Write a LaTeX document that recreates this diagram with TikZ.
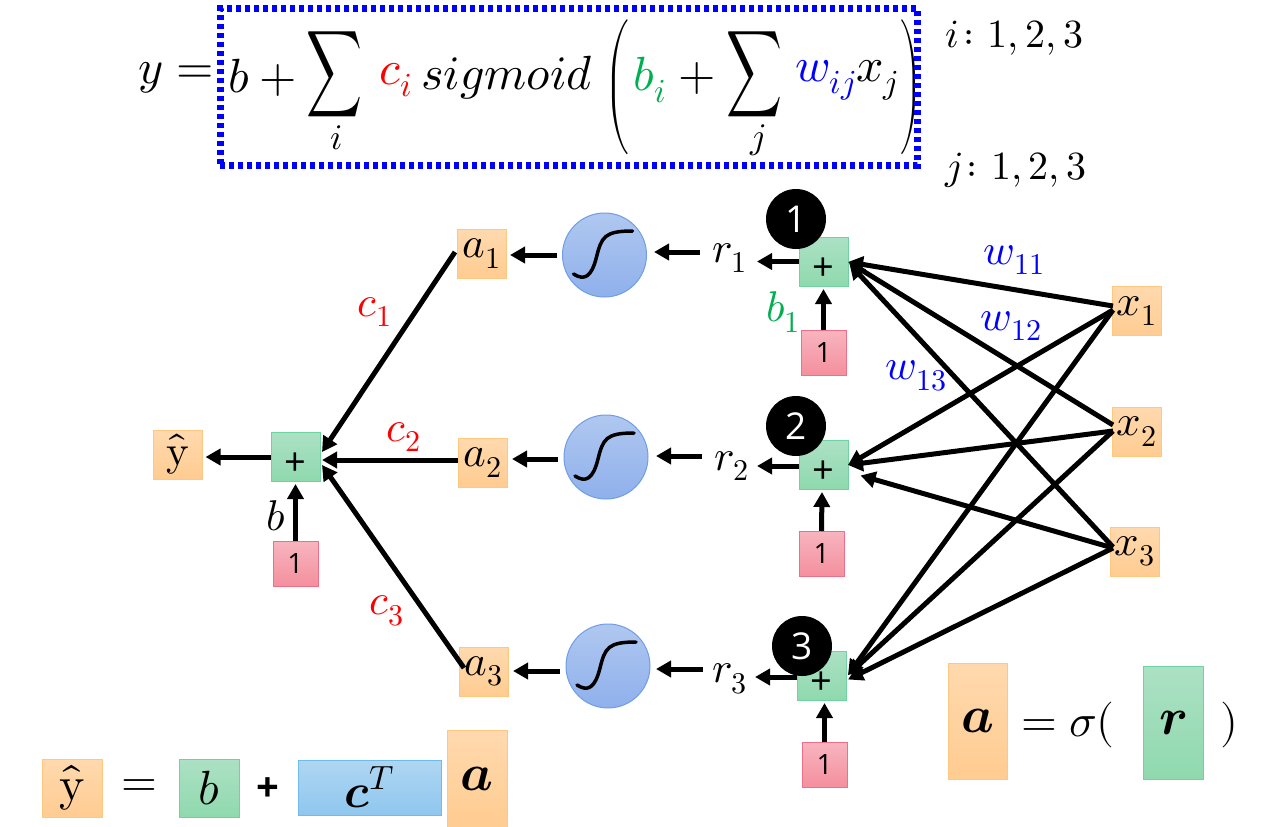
\documentclass[tikz,border=0pt]{standalone}
\usepackage{fontspec}
\usepackage{unicode-math}
\setmainfont{Open Sans}
\setmathfont{Latin Modern Math}
\usetikzlibrary{arrows.meta}
\definecolor{orT}{HTML}{FFD9AE}\definecolor{orB}{HTML}{FFCC91}\definecolor{orL}{HTML}{FFC880}
\definecolor{grT}{HTML}{ACE1C4}\definecolor{grB}{HTML}{8FD9AE}\definecolor{grL}{HTML}{70D2A0}
\definecolor{piT}{HTML}{F7B5BF}\definecolor{piB}{HTML}{F58F9E}\definecolor{piL}{HTML}{EE7088}
\definecolor{ciT}{HTML}{B0C8F0}\definecolor{ciB}{HTML}{8FB0EC}\definecolor{ciL}{HTML}{6F9EE6}
\definecolor{blT}{HTML}{AFD6F2}\definecolor{blB}{HTML}{8FC7EF}\definecolor{blL}{HTML}{6FBCEA}
\definecolor{labgreen}{HTML}{00B050}
\newcommand{\fs}[1]{\fontsize{#1}{#1}\selectfont}
\tikzset{
  x=1pt,y=-1pt,
  base/.style={inner sep=0pt,outer sep=0pt,line width=1pt},
  obox/.style={base,rectangle,minimum size=49pt,top color=orT,bottom color=orB,draw=orL,font=\fs{43}},
  gbox/.style={base,rectangle,minimum size=49pt,top color=grT,bottom color=grB,draw=grL,font=\fs{38}},
  sumbox/.style={gbox,text height=38pt,text depth=0pt},
  pbox/.style={base,rectangle,minimum size=45pt,top color=piT,bottom color=piB,draw=piL,font=\fs{28}},
  sig/.style={base,circle,minimum size=84pt,top color=ciT,bottom color=ciB,draw=ciL},
  badge/.style={base,circle,minimum size=60pt,fill=black,text=white,font=\fs{37}},
  lab/.style={inner sep=0pt,font=\fs{43}},
  eqn/.style={inner sep=0pt,font=\fs{48}},
  arr/.style={line width=5pt,-{Triangle[length=15pt,width=16pt]}},
  curve/.style={line width=3.5pt,line cap=round}
}
\newcommand{\sigmoidin}[1]{\draw[curve] ([shift={(-31,19)}]#1.center) .. controls ([shift={(-20,26)}]#1.center) and ([shift={(-13,22)}]#1.center) .. ([shift={(-8,2)}]#1.center) .. controls ([shift={(-3,-18)}]#1.center) and ([shift={(0,-24)}]#1.center) .. ([shift={(28,-24)}]#1.center);}
\begin{document}
\begin{tikzpicture}
\useasboundingbox[fill=white] (0,0) rectangle (1285,827);

% formula on top
\node[eqn,anchor=center] (ylhs) at (176,78) {$y=$};
\node[eqn] (b0) at (268,78) {$b+{}$};
\node[inner sep=0pt] (sumi) at (335,74.5) {\resizebox*{56pt}{85pt}{$\displaystyle\sum$}};
\node[inner sep=0pt,font=\fs{36}] (subi) at (337,138) {$i$};
\node[eqn] (ci) at (396,80) {$\textcolor{red}{c_i}$};
\node[eqn] (sgm) at (507,78) {$sigmoid$};
\node[inner sep=0pt] (lp) at (617,87) {\resizebox*{25pt}{135pt}{$\Bigg($}};
\node[eqn] (bi) at (650,80) {$\textcolor{labgreen}{b_i}$};
\node[eqn] (plusb) at (697,78) {$+$};
\node[inner sep=0pt] (sumj) at (754,74.5) {\resizebox*{56pt}{85pt}{$\displaystyle\sum$}};
\node[inner sep=0pt,font=\fs{36}] (subj) at (758,140) {$j$};
\node[eqn] (wx) at (847,80) {$\textcolor{blue}{w_{ij}}x_j$};
\node[inner sep=0pt] (rp) at (911,87) {\resizebox*{22pt}{135pt}{$\Bigg)$}};
\node[base,draw=blue,line width=7pt,dash pattern=on 5pt off 4pt,minimum width=697pt,minimum height=156.5pt] (frame) at (568.5,86.8) {};
\node[lab,font=\fs{40},anchor=west] (irange) at (945,38) {$i\colon 1{,}\,2{,}\,3$};
\node[lab,font=\fs{40},anchor=west] (jrange) at (945,170) {$j\colon 1{,}\,2{,}\,3$};

% boxes of the network
\node[obox] (a1) at (481.5,253.5) {$a_1$};
\node[obox] (a2) at (482.5,462.5) {$a_2$};
\node[obox] (a3) at (484,671.5) {$a_3$};
\node[obox] (x1) at (1136.5,311) {$x_1$};
\node[obox] (x2) at (1136.5,431.5) {$x_2$};
\node[obox] (x3) at (1134.5,551.5) {$x_3$};
\node[obox] (yh) at (177.5,454.5) {$\hat{\symup{y}}$};
\node[sumbox] (p1) at (823.5,261.5) {+};
\node[sumbox] (p2) at (823.5,464.5) {+};
\node[sumbox] (p3) at (821.5,675.5) {+};
\node[sumbox] (py) at (295.5,456.5) {+};
\node[pbox] (o1) at (823.5,352.5) {1};
\node[pbox] (o2) at (821.5,553.5) {1};
\node[pbox] (o3) at (824.5,764.5) {1};
\node[pbox] (oy) at (295.5,563.5) {1};
\node[sig] (c1) at (604.5,255) {};
\node[sig] (c2) at (606,457) {};
\node[sig] (c3) at (608,666) {};
\sigmoidin{c1}\sigmoidin{c2}\sigmoidin{c3}
\node[badge] (n1) at (796,219) {1};
\node[badge] (n2) at (796,426) {2};
\node[badge] (n3) at (802,646) {3};

% hidden-layer outputs
\node[lab] (r1) at (730,258) {$r_1$};
\node[lab] (r2) at (732,466) {$r_2$};
\node[lab] (r3) at (730,679) {$r_3$};

% weights and labels
\node[lab,text=red] (lc1) at (375,312) {$c_1$};
\node[lab,text=red] (lc2) at (404,437) {$c_2$};
\node[lab,text=red] (lc3) at (387,611) {$c_3$};
\node[lab] (lb) at (276,516) {$b$};
\node[lab,text=labgreen] (lb1) at (783,312) {$b_1$};
\node[lab,text=blue] (w11) at (1014,260) {$w_{11}$};
\node[lab,text=blue] (w12) at (1011,326) {$w_{12}$};
\node[lab,text=blue] (w13) at (916,376) {$w_{13}$};

% connectors into the output sum
\draw[arr] ([shift={(-26.5,-1.5)}]a1.center) -- ([shift={(26.5,-4.5)}]py.center);
\draw[arr] ([shift={(-24.5,-2.5)}]a2.center) -- ([shift={(26.5,3.5)}]py.center);
\draw[arr] ([shift={(-20,-3.5)}]a3.center) -- ([shift={(26.5,8.5)}]py.center);
\draw[arr] ([shift={(0,0.5)}]py.west) -- ([shift={(28,2.5)}]yh.center);
\draw[arr] (oy.north) -- ([shift={(0,27.5)}]py.center);

% sigmoid stages
\draw[arr] (c1.west) ++(-6,0) -- ([shift={(28.5,1.5)}]a1.center);
\draw[arr] (c2.west) ++(-6,2) -- ([shift={(29.5,-3.5)}]a2.center);
\draw[arr] (c3.west) ++(-6,5) -- ([shift={(29,-0.5)}]a3.center);
\draw[arr] ([shift={(-30,-6)}]r1.center) -- ([shift={(49.5,-3)}]c1.center);
\draw[arr] ([shift={(-30,-10)}]r2.center) -- ([shift={(50,-1)}]c2.center);
\draw[arr] ([shift={(-27,-10)}]r3.center) -- ([shift={(48,3)}]c3.center);
\draw[arr] (p1.west) -- ([shift={(27,3.5)}]r1.center);
\draw[arr] ([shift={(0,1.5)}]p2.west) -- ([shift={(25,0)}]r2.center);
\draw[arr] ([shift={(0,1.5)}]p3.west) -- ([shift={(25,-2)}]r3.center);

% bias inputs
\draw[arr] (o1.north) -- ([shift={(0,27.5)}]p1.center);
\draw[arr] (o2.north) -- ([shift={(-1.5,27.5)}]p2.center);
\draw[arr] (o3.north) -- ([shift={(3,27.5)}]p3.center);

% inputs to the sums
\draw[arr] ([shift={(-23.5,-5)}]x1.center) -- ([shift={(24.5,0.5)}]p1.center);
\draw[arr] ([shift={(-23.5,-6.5)}]x2.center) -- ([shift={(25,0.5)}]p1.center);
\draw[arr] ([shift={(-21.5,-4.5)}]x3.center) -- ([shift={(26,2.5)}]p1.center);
\draw[arr] ([shift={(-23.5,-1)}]x1.center) -- ([shift={(24.5,0.5)}]p2.center);
\draw[arr] ([shift={(-23.5,-0.5)}]x2.center) -- ([shift={(24.5,0.5)}]p2.center);
\draw[arr] ([shift={(-21.5,-3.5)}]x3.center) -- ([shift={(37,11)}]p2.center);
\draw[arr] ([shift={(-23.5,-1)}]x1.center) -- ([shift={(26.5,-0.5)}]p3.center);
\draw[arr] ([shift={(-23.5,-0.5)}]x2.center) -- ([shift={(26.5,-0.5)}]p3.center);
\draw[arr] ([shift={(-21.5,-3.5)}]x3.center) -- ([shift={(26.5,4)}]p3.center);

% matrix form, bottom left
\node[obox,minimum width=60pt,minimum height=58pt,font=\fs{48}] (vy) at (72.5,788) {$\hat{\symup{y}}$};
\node[eqn,font=\fs{46}] (eq1) at (139,788) {$=$};
\node[gbox,minimum width=60pt,minimum height=58pt,font=\fs{48}] (vb) at (209.5,788) {$b$};
\node[eqn,font=\fs{40}\bfseries] (pl) at (268,790) {+};
\node[base,rectangle,minimum width=143pt,minimum height=55pt,top color=blT,bottom color=blB,draw=blL,font=\fs{48}] (vc) at (369.5,787.5) {$\symbfit{c}^T$};
\node[obox,minimum width=60pt,minimum height=97pt,font=\fs{52}] (va) at (477,778.5) {$\symbfit{a}$};

% matrix form, bottom right
\node[obox,minimum width=59pt,minimum height=116pt,font=\fs{52}] (ra) at (977.5,721) {$\symbfit{a}$};
\node[eqn,font=\fs{46}] (sg) at (1068,725) {$=\sigma($};
\node[gbox,minimum width=60pt,minimum height=113pt,font=\fs{52}] (rr) at (1173,722.5) {$\symbfit{r}$};
\node[eqn,font=\fs{46}] (cp) at (1229,725) {$)$};
\end{tikzpicture}
\end{document}
